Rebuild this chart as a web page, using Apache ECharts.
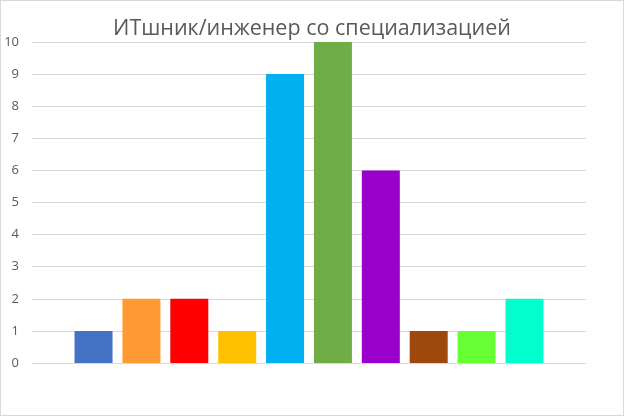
<!DOCTYPE html>
<html>
<head>
<meta charset="utf-8">
<script src="https://cdn.jsdelivr.net/npm/echarts@6/dist/echarts.min.js"></script>
<style>
html,body{margin:0;padding:0;background:#fff;}
#chart{width:622px;height:414px;border:1px solid #d9d9d9;}
</style>
</head>
<body>
<div id="chart"></div>
<script>
var titleText = "ИТшник/инженер со специализацией";
var categories = [""];
var seriesNames = ["Серия1","Серия2","Серия3","Серия4","Серия5","Серия6","Серия7","Серия8","Серия9","Серия10"];
var seriesValues = [1, 2, 2, 1, 9, 10, 6, 1, 1, 2];
var seriesColors = ["#4472c4","#ff9933","#ff0000","#ffc000","#00b0f0","#70ad47","#9900cc","#9e480e","#66ff33","#00ffcc"];
var yTicks = [0,1,2,3,4,5,6,7,8,9,10];

var chart = echarts.init(document.getElementById("chart"));

var series = [];
for (var i = 0; i < seriesValues.length; i++) {
	series.push({
		name: seriesNames[i],
		type: 'bar',
		data: [seriesValues[i]],
		barWidth: 38,
		barGap: '26%',
		itemStyle: {color: seriesColors[i]}
	});
}

var option = {
	animation: false,
	title: {
		text: titleText,
		left: 'center',
		top: 12,
		textStyle: {fontFamily: 'Open Sans', fontWeight: 'normal', fontSize: 21.5, color: '#595959'}
	},
	grid: {left: 31, right: 37, top: 41, bottom: 52},
	xAxis: {
		type: 'category',
		data: categories,
		axisLine: {show: false},
		axisTick: {show: false},
		axisLabel: {show: false}
	},
	yAxis: {
		type: 'value',
		min: yTicks[0],
		max: yTicks[yTicks.length - 1],
		interval: 1,
		axisLine: {show: false},
		axisTick: {show: false},
		axisLabel: {fontFamily: 'Open Sans', fontSize: 13, color: '#595959', margin: 13},
		splitLine: {lineStyle: {color: '#d9d9d9'}}
	},
	series: series
};

chart.setOption(option);
</script>
</body>
</html>
